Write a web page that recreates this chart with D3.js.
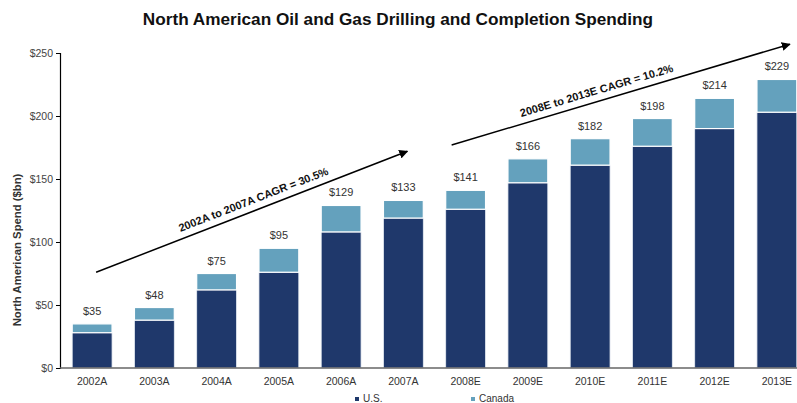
<!DOCTYPE html>
<html><head><meta charset="utf-8">
<script src="https://cdn.jsdelivr.net/npm/d3@7"></script>
<style>body{margin:0;background:#fff}svg{display:block;font-family:"Liberation Sans",Arial,sans-serif}</style>
</head><body><svg id="c" width="797" height="403"></svg>
<script>
const categories = ["2002A","2003A","2004A","2005A","2006A","2007A","2008E","2009E","2010E","2011E","2012E","2013E"];
const usValues = [28,38,62,76,108,119,126,147,161,176,190,203];
const canadaValues = [7,10,13,19,21,14,15,19,21,22,24,26];
const totalLabels = ["$35","$48","$75","$95","$129","$133","$141","$166","$182","$198","$214","$229"];
const yTicks = [0,50,100,150,200,250];
const seriesNames = ["U.S.","Canada"];
const colors = ["#1f386b","#64a1bd"];
const cagrText = ["2002A to 2007A CAGR = 30.5%","2008E to 2013E CAGR = 10.2%"];

const svg = d3.select("#c");
const x = d3.scaleBand().domain(categories).range([61,808]).paddingInner(0.36).paddingOuter(0.18);
const y = d3.scaleLinear().domain([0,250]).range([368,53]);
const bw = x.bandwidth();

svg.append("text").attr("x",398).attr("y",25).attr("text-anchor","middle")
  .attr("font-size",17.2).attr("font-weight","bold").attr("fill","#111")
  .text("North American Oil and Gas Drilling and Completion Spending");

// bars
const data = categories.map((c,i)=>({c,us:usValues[i],ca:canadaValues[i],lab:totalLabels[i]}));
const g = svg.append("g");
g.selectAll("rect.us").data(data).join("rect").attr("class","us")
  .attr("x",d=>x(d.c)).attr("width",bw)
  .attr("y",d=>y(d.us)).attr("height",d=>y(0)-y(d.us))
  .attr("fill",colors[0]).attr("stroke","#e8eef4").attr("stroke-width",0.8);
g.selectAll("rect.ca").data(data).join("rect").attr("class","ca")
  .attr("x",d=>x(d.c)).attr("width",bw)
  .attr("y",d=>y(d.us+d.ca)).attr("height",d=>y(d.us)-y(d.us+d.ca))
  .attr("fill",colors[1]).attr("stroke","#ffffff").attr("stroke-width",1.2);
g.selectAll("text.lab").data(data).join("text").attr("class","lab")
  .attr("x",d=>x(d.c)+bw/2).attr("y",d=>y(d.us+d.ca)-9)
  .attr("text-anchor","middle").attr("font-size",11).attr("fill","#333").text(d=>d.lab);

// y axis
const ya = svg.append("g").attr("transform","translate(60,0)")
  .call(d3.axisLeft(y).tickValues(yTicks).tickSize(4).tickPadding(3).tickFormat(d=>"$"+d));
ya.select(".domain").attr("stroke","#000").attr("stroke-width",1.2);
ya.selectAll("text").attr("font-size",10.5).attr("fill","#444").attr("font-family","Liberation Sans, Arial");
svg.append("text").attr("transform","translate(21,250) rotate(-90)").attr("text-anchor","middle")
  .attr("font-size",11.3).attr("font-weight","bold").attr("fill","#333").text("North American Spend ($bn)");

// x axis
svg.append("line").attr("x1",60).attr("x2",797).attr("y1",y(0)).attr("y2",y(0)).attr("stroke","#666").attr("stroke-width",1.5);
svg.selectAll("text.xl").data(categories).join("text").attr("class","xl")
  .attr("x",d=>x(d)+bw/2).attr("y",385).attr("text-anchor","middle")
  .attr("font-size",10.5).attr("fill","#333").text(d=>d);

// legend
const leg = [{n:seriesNames[0],c:colors[0],x:355},{n:seriesNames[1],c:colors[1],x:471}];
leg.forEach(l=>{
  svg.append("rect").attr("x",l.x).attr("y",397).attr("width",4).attr("height",4).attr("fill",l.c);
  svg.append("text").attr("x",l.x+8).attr("y",402).attr("font-size",10).attr("fill","#333").text(l.n);
});

// arrows
const defs = svg.append("defs");
defs.append("marker").attr("id","ah").attr("viewBox","0 0 10 10").attr("refX",9).attr("refY",5)
  .attr("markerWidth",9).attr("markerHeight",9).attr("markerUnits","userSpaceOnUse").attr("orient","auto")
  .append("path").attr("d","M0,0L10,5L0,10z").attr("fill","#000");
const arrows = [
  {p0:[x("2002A")+bw/2+4, y(76)], p1:[x("2007A")+bw/2+4, y(172)], t:cagrText[0], along:6},
  {p0:[x("2008E")+bw/2-14, y(177)], p1:[x("2013E")+bw/2+13, y(257)], t:cagrText[1], along:-22}
];
arrows.forEach((a,i)=>{
  svg.append("line").attr("x1",a.p0[0]).attr("y1",a.p0[1]).attr("x2",a.p1[0]).attr("y2",a.p1[1])
    .attr("stroke","#000").attr("stroke-width",1.5).attr("marker-end","url(#ah)");
  const ang = Math.atan2(a.p1[1]-a.p0[1], a.p1[0]-a.p0[0])*180/Math.PI;
  const rad = ang*Math.PI/180;
  const mx = (a.p0[0]+a.p1[0])/2 + a.along*Math.cos(rad), my=(a.p0[1]+a.p1[1])/2 + a.along*Math.sin(rad);
  const off = 7;
  const tx = mx + off*Math.sin(rad), ty = my - off*Math.cos(rad);
  svg.append("text").attr("transform",`translate(${tx},${ty}) rotate(${ang})`)
    .attr("text-anchor","middle").attr("font-size",11).attr("font-weight","bold").attr("fill","#111").text(a.t);
});
</script></body></html>
